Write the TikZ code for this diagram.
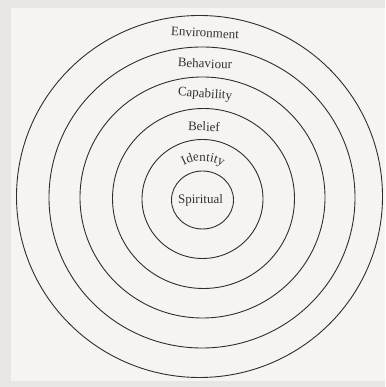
\documentclass[tikz,border=0pt]{standalone}
\usepackage{fontspec}
\setmainfont{Liberation Serif}
\usetikzlibrary{decorations.text}
\definecolor{page}{HTML}{F5F4F1}
\definecolor{margin}{HTML}{E8E6E3}
\definecolor{ink}{HTML}{2E2E2E}
\definecolor{txt}{HTML}{333333}
\tikzset{
  ring/.style={draw=ink, line width=0.9pt},
  lbl/.style={text=txt, font=\fontsize{13}{15}\selectfont, inner sep=0pt, anchor=center}
}
\begin{document}
\begin{tikzpicture}[x=1pt,y=1pt]
\useasboundingbox (0,0) rectangle (385,387);
\fill[margin] (0,0) rectangle (385,387);
\fill[page] (11,6) rectangle (385,379);
% rings (image coords converted: y = 387 - y_img)
\draw[ring] (202.5,187) ellipse [x radius=31, y radius=29];
\draw[ring] (202.5,188) ellipse [x radius=60.5, y radius=59.5];
\draw[ring] (203.5,188.5) ellipse [x radius=91, y radius=90];
\draw[ring] (202.5,189.5) ellipse [x radius=122.5, y radius=120.5];
\draw[ring] (202,189.5) ellipse [x radius=153, y radius=150.5];
\draw[ring] (199.5,190.5) ellipse [x radius=183, y radius=181];
% labels
\node[lbl, rotate=-3] (environment) at (205,354) {Environment};
\node[lbl, rotate=-2] (behaviour) at (205,323.5) {Behaviour};
\node[lbl, rotate=-4] (capability) at (205,292.5) {Capability};
\node[lbl, rotate=-1.5] (belief) at (204,260.5) {Belief};
\node[lbl] (spiritual) at (200.5,187) {Spiritual};
\path[decorate, decoration={text along path, text align=center,
  text={|\fontsize{13}{15}\selectfont\color{txt}|Identity}}]
  (168.4,206) arc[start angle=150, end angle=30, radius=40];
\end{tikzpicture}
\end{document}
